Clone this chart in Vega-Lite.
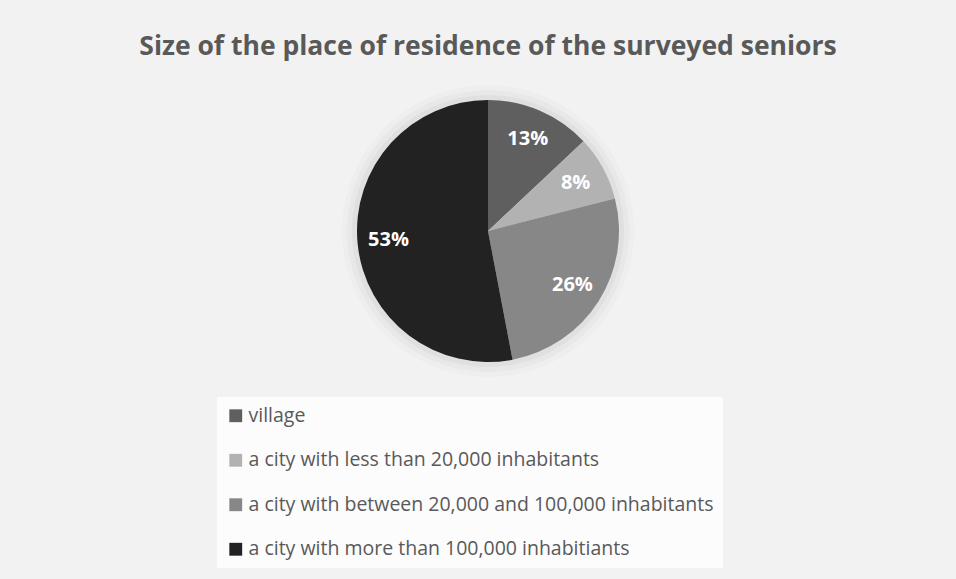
{
  "$schema": "https://vega.github.io/schema/vega-lite/v6.json",
  "width": 262,
  "height": 262,
  "autosize": {"type": "none"},
  "padding": {"left": 357, "top": 100, "right": 337, "bottom": 217},
  "background": "#f2f2f2",
  "config": {"view": {"stroke": null}, "font": "Open Sans"},
  "title": {
    "text": "Size of the place of residence of the surveyed seniors",
    "fontSize": 26.5,
    "fontWeight": "bold",
    "color": "#595959",
    "font": "Open Sans",
    "anchor": "middle",
    "offset": 25
  },
  "data": {
    "values": [
      {"place": "village", "share": 13, "order": 1, "label": "13%"},
      {"place": "a city with less than 20,000 inhabitants", "share": 8, "order": 2, "label": "8%"},
      {"place": "a city with between 20,000 and 100,000 inhabitants", "share": 26, "order": 3, "label": "26%"},
      {"place": "a city with more than 100,000 inhabitiants", "share": 53, "order": 4, "label": "53%"}
    ]
  },
  "encoding": {
    "theta": {"field": "share", "type": "quantitative", "stack": true},
    "order": {"field": "order", "type": "quantitative"}
  },
  "layer": [
    {
      "mark": {"type": "arc", "outerRadius": 146, "color": "#eeeeee", "stroke": null}
    },
    {
      "mark": {"type": "arc", "outerRadius": 141, "color": "#e8e8e8", "stroke": null}
    },
    {
      "mark": {"type": "arc", "outerRadius": 136, "color": "#e0e0e0", "stroke": null}
    },
    {
      "mark": {"type": "arc", "outerRadius": 131, "stroke": null},
      "encoding": {
        "color": {
          "field": "place",
          "type": "nominal",
          "scale": {
            "domain": [
              "village",
              "a city with less than 20,000 inhabitants",
              "a city with between 20,000 and 100,000 inhabitants",
              "a city with more than 100,000 inhabitiants"
            ],
            "range": ["#5f5f5f", "#b2b2b2", "#878787", "#222222"]
          },
          "legend": {
            "title": null,
            "orient": "none",
            "legendX": -140,
            "legendY": 297,
            "direction": "vertical",
            "fillColor": "#fcfcfc",
            "padding": 9,
            "symbolType": "square",
            "symbolSize": 165,
            "symbolStrokeWidth": 0,
            "labelFontSize": 19.5,
            "labelFont": "Open Sans",
            "labelColor": "#595959",
            "labelOffset": 3,
            "labelLimit": 700,
            "rowPadding": 23.5
          }
        }
      }
    },
    {
      "mark": {"type": "text", "radius": 100, "fontSize": 20, "fontWeight": "bold", "color": "white", "font": "Open Sans"},
      "encoding": {"text": {"field": "label", "type": "nominal"}}
    }
  ]
}
